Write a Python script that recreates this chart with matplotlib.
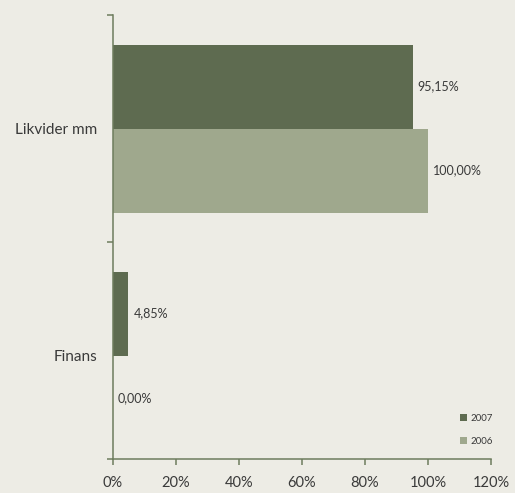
import matplotlib
matplotlib.use("Agg")
import matplotlib.pyplot as plt
import numpy as np

categories = ["Finans", "Likvider mm"]
series_names = ["2007", "2006"]
values_2007 = [4.85, 95.15]
values_2006 = [0.00, 100.00]
labels_2007 = ["4,85%", "95,15%"]
labels_2006 = ["0,00%", "100,00%"]
xticks = [0, 20, 40, 60, 80, 100, 120]
xtick_labels = ["0%", "20%", "40%", "60%", "80%", "100%", "120%"]

bg = "#EDECE5"
c2007 = "#5E6B50"
c2006 = "#9FA88D"
axc = "#6E7D5E"
txt = "#3a3a3a"

plt.rcParams['font.family'] = ['Lato', 'DejaVu Sans']

fig = plt.figure(figsize=(5.15, 4.93), dpi=100, facecolor=bg)
ax = fig.add_axes([113/515, 1-459/493, (491-113)/515, (459-15)/493])
ax.set_facecolor(bg)

y = np.arange(len(categories))
h = 0.37
ax.barh(y + h/2, values_2007, height=h, color=c2007, label=series_names[0])
ax.barh(y - h/2, values_2006, height=h, color=c2006, label=series_names[1])

for yy, v, lab in zip(y + h/2, values_2007, labels_2007):
    ax.text(v + 1.6, yy, lab, va='center', ha='left', fontsize=9, color=txt)
for yy, v, lab in zip(y - h/2, values_2006, labels_2006):
    ax.text(v + 1.6, yy, lab, va='center', ha='left', fontsize=9, color=txt)

ylo, yhi = -0.455, 1.5
ax.set_ylim(ylo, yhi)
ax.set_xlim(0, 120)

ax.set_yticks([ylo, 0.5, 1.5])
ax.set_yticklabels([])
ax.set_yticks(y, minor=True)
ax.set_yticklabels(categories, minor=True, fontsize=11, color=txt)
ax.tick_params(axis='y', which='minor', length=0, pad=11)
ax.tick_params(axis='y', which='major', length=4, width=1.1, color=axc, direction='out')

ax.set_xticks(xticks)
ax.set_xticklabels(xtick_labels, fontsize=10.5, color=txt)
ax.tick_params(axis='x', length=4, width=1.1, color=axc, direction='out', pad=8)

for s in ['top', 'right']:
    ax.spines[s].set_visible(False)
for s in ['left', 'bottom']:
    ax.spines[s].set_color(axc)
    ax.spines[s].set_linewidth(1.1)

leg = ax.legend(loc='lower right', bbox_to_anchor=(1.02, 0.016), frameon=False,
                fontsize=7, handlelength=0.75, handleheight=0.75, handletextpad=0.3,
                labelspacing=1.45, borderaxespad=0.2)
for t in leg.get_texts():
    t.set_color(txt)

fig.savefig("out.png", dpi=100, facecolor=bg)
